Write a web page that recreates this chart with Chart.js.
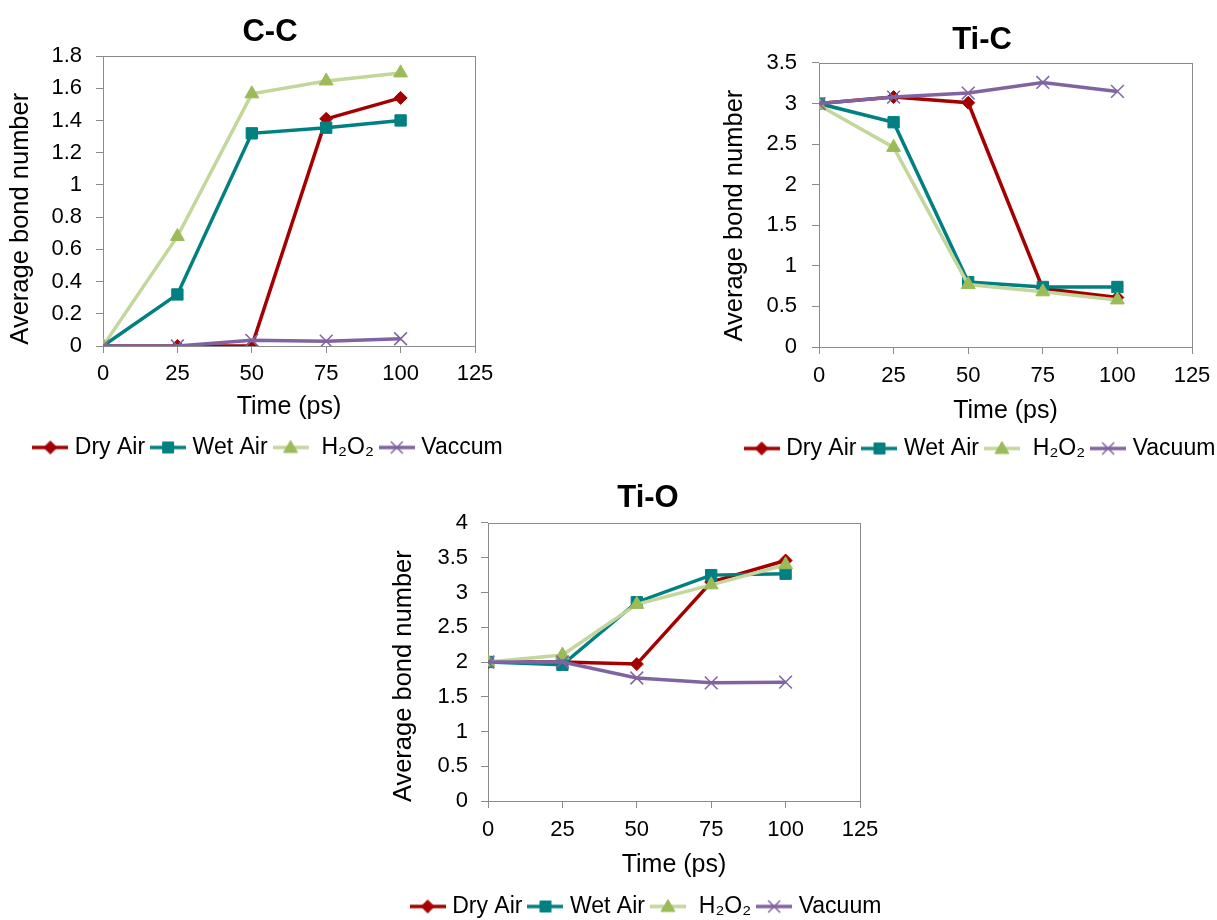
<!DOCTYPE html>
<html>
<head>
<meta charset="utf-8">
<script src="https://cdn.jsdelivr.net/npm/chart.js@4.4.1/dist/chart.umd.min.js"></script>
<style>
  html, body { margin: 0; padding: 0; background: #fff; overflow: hidden; }
  #wrap { position: relative; width: 1217px; height: 920px; overflow: hidden; }
  canvas { position: absolute; }
</style>
</head>
<body>
<div id="wrap">
  <canvas id="cc" width="540" height="469" style="left:0px;top:0px"></canvas>
  <canvas id="tic" width="524" height="470" style="left:720px;top:0px"></canvas>
  <canvas id="tio" width="536" height="468" style="left:380px;top:460px"></canvas>
</div>
<script>
// time axis (ps)
const times = [0, 25, 50, 75, 100];
const xTicks = [0, 25, 50, 75, 100, 125];

// C-C average bond number
const ccDry = [0, 0, 0, 1.41, 1.54];
const ccWet = [0, 0.32, 1.32, 1.355, 1.40];
const ccH2O2 = [0, 0.68, 1.565, 1.645, 1.695];
const ccVac = [0, 0, 0.035, 0.03, 0.045];

// Ti-C average bond number
const ticDry = [3.0, 3.08, 3.01, 0.72, 0.61];
const ticWet = [3.0, 2.77, 0.8, 0.74, 0.74];
const ticH2O2 = [2.98, 2.46, 0.77, 0.68, 0.58];
const ticVac = [3.0, 3.08, 3.13, 3.26, 3.15];

// Ti-O average bond number
const tioDry = [2.0, 2.0, 1.97, 3.15, 3.46];
const tioWet = [2.0, 1.96, 2.86, 3.25, 3.27];
const tioH2O2 = [2.0, 2.1, 2.83, 3.11, 3.40];
const tioVac = [2.0, 2.0, 1.77, 1.70, 1.71];

const FONT = "'Liberation Sans', Arial, sans-serif";
const GRAY = '#8a8a8a';
const RED = '#a50000';
const TEAL = '#008080';
const LGREEN = '#c3d69b';
const GREEN = '#9bbb59';
const PURPLE = '#8064a2';
const LW = 3.5;

function pts(arr) {
  return arr.map((v, i) => ({x: times[i], y: v}));
}

// little line + marker picture for the legend
function icon(line, mark, shape) {
  const c = document.createElement('canvas');
  c.width = 36; c.height = 20;
  const g = c.getContext('2d');
  g.strokeStyle = line; g.lineWidth = LW;
  g.beginPath(); g.moveTo(0, 10); g.lineTo(36, 10); g.stroke();
  g.fillStyle = mark; g.strokeStyle = mark; g.lineWidth = 1;
  g.beginPath();
  if (shape == 'diamond') {
    g.moveTo(18, 3.5); g.lineTo(24.5, 10); g.lineTo(18, 16.5); g.lineTo(11.5, 10); g.closePath();
    g.fill(); g.stroke();
  } else if (shape == 'square') {
    g.rect(12.5, 4.5, 11, 11); g.fill(); g.stroke();
  } else if (shape == 'triangle') {
    g.moveTo(18, 3); g.lineTo(25, 15); g.lineTo(11, 15); g.closePath(); g.fill(); g.stroke();
  } else {
    g.lineWidth = 1.5;
    g.moveTo(12, 4); g.lineTo(24, 16); g.moveTo(24, 4); g.lineTo(12, 16); g.stroke();
  }
  return c;
}

const icons = [
  icon(RED, RED, 'diamond'),
  icon(TEAL, TEAL, 'square'),
  icon(LGREEN, GREEN, 'triangle'),
  icon(PURPLE, PURPLE, 'cross')
];

// plot area border
const frame = {
  id: 'frame',
  beforeDatasetsDraw(chart) {
    const a = chart.chartArea, ctx = chart.ctx;
    ctx.save();
    ctx.strokeStyle = GRAY; ctx.lineWidth = 1;
    ctx.strokeRect(Math.round(a.left) + 0.5, Math.round(a.top) + 0.5,
      Math.round(a.right - a.left), Math.round(a.bottom - a.top));
    ctx.restore();
  }
};

function datasets(dry, wet, h2o2, vac, vacLabel) {
  return [
    {label: 'Dry Air', data: pts(dry), borderColor: RED, backgroundColor: RED,
     pointStyle: 'rectRot', pointRadius: 6.5, pointBorderWidth: 1, borderWidth: LW, order: 3},
    {label: 'Wet Air', data: pts(wet), borderColor: TEAL, backgroundColor: TEAL,
     pointStyle: 'rect', pointRadius: 8, pointBorderWidth: 1, borderWidth: LW, order: 2},
    {label: ' H\u2082O\u2082', data: pts(h2o2), borderColor: LGREEN, backgroundColor: GREEN,
     pointBorderColor: GREEN, pointStyle: 'triangle', pointRadius: 8, pointBorderWidth: 1, borderWidth: LW, order: 1},
    {label: vacLabel, data: pts(vac), borderColor: PURPLE, backgroundColor: PURPLE,
     pointStyle: 'crossRot', pointRadius: 9, pointBorderWidth: 1.5, borderWidth: LW, order: 0}
  ];
}

function makeChart(id, o) {
  return new Chart(document.getElementById(id), {
    type: 'line',
    data: {datasets: datasets(o.dry, o.wet, o.h2o2, o.vac, o.vacLabel)},
    plugins: [frame],
    options: {
      responsive: false,
      animation: false,
      layout: {padding: 0},
      plugins: {
        tooltip: {enabled: false},
        title: {display: true, text: o.title, color: '#000',
          font: {family: FONT, size: 31, weight: 'bold'},
          padding: {top: o.titleTop, bottom: o.titleBottom}},
        legend: {
          position: 'bottom',
          labels: {
            usePointStyle: true, pointStyleWidth: 26, padding: 10, color: '#000',
            font: {family: FONT, size: 23},
            generateLabels: chart => chart.data.datasets.map((ds, i) => ({
              text: ds.label, pointStyle: icons[i], datasetIndex: i,
              fontColor: '#000', hidden: false, lineWidth: 0,
              strokeStyle: 'rgba(0,0,0,0)', fillStyle: 'rgba(0,0,0,0)'
            }))
          }
        }
      },
      scales: {
        x: {
          type: 'linear', min: 0, max: 125,
          afterBuildTicks: s => { s.ticks = xTicks.map(v => ({value: v})); },
          ticks: {padding: o.xPad, color: '#000', font: {family: FONT, size: 22}},
          grid: {drawOnChartArea: false, drawTicks: true, tickLength: 7, color: GRAY},
          border: {display: false},
          title: {display: true, text: 'Time (ps)', color: '#000',
            font: {family: FONT, size: 25}, padding: {top: 0, bottom: o.xTitleBottom}},
          afterFit: s => { s.height = o.xHeight; }
        },
        y: {
          min: 0, max: o.yMax,
          ticks: {stepSize: o.yStep, autoSkip: false, padding: o.yPad, color: '#000',
            font: {family: FONT, size: 22},
            callback: v => String(Math.round(v * 10) / 10)},
          grid: {drawOnChartArea: false, drawTicks: true, tickLength: 7, color: GRAY},
          border: {display: false},
          title: {display: true, text: 'Average bond number' + '\u00a0'.repeat(o.ySpaces), color: '#000',
            font: {family: FONT, size: 25.5}, padding: {top: o.yTitlePad, bottom: 0}},
          afterFit: s => { s.width = o.yWidth; }
        },
        // empty right axis, only holds the space right of the plot
        yR: {
          type: 'linear', position: 'right', display: true,
          ticks: {display: false}, grid: {display: false}, border: {display: false},
          afterFit: s => { s.width = o.rightWidth; }
        }
      }
    }
  });
}

makeChart('cc', {
  title: 'C-C', dry: ccDry, wet: ccWet, h2o2: ccH2O2, vac: ccVac, vacLabel: 'Vaccum',
  titleTop: 13.9, titleBottom: 4.9,
  xPad: 8, xTitleBottom: 4, xHeight: 80,
  yMax: 1.8, yStep: 0.2, yPad: 14, yWidth: 103, rightWidth: 65, yTitlePad: 6, ySpaces: 5
});

makeChart('tic', {
  title: 'Ti-C', dry: ticDry, wet: ticWet, h2o2: ticH2O2, vac: ticVac, vacLabel: 'Vacuum',
  titleTop: 21.9, titleBottom: 3.9,
  xPad: 9, xTitleBottom: 1, xHeight: 80,
  yMax: 3.5, yStep: 0.5, yPad: 15, yWidth: 99, rightWidth: 52, yTitlePad: 0, ySpaces: 3
});

makeChart('tio', {
  title: 'Ti-O', dry: tioDry, wet: tioWet, h2o2: tioH2O2, vac: tioVac, vacLabel: 'Vacuum',
  titleTop: 19.4, titleBottom: 6.4,
  xPad: 9, xTitleBottom: 5, xHeight: 84,
  yMax: 4, yStep: 0.5, yPad: 13, yWidth: 108, rightWidth: 56, yTitlePad: 9, ySpaces: 4
});
</script>
</body>
</html>
